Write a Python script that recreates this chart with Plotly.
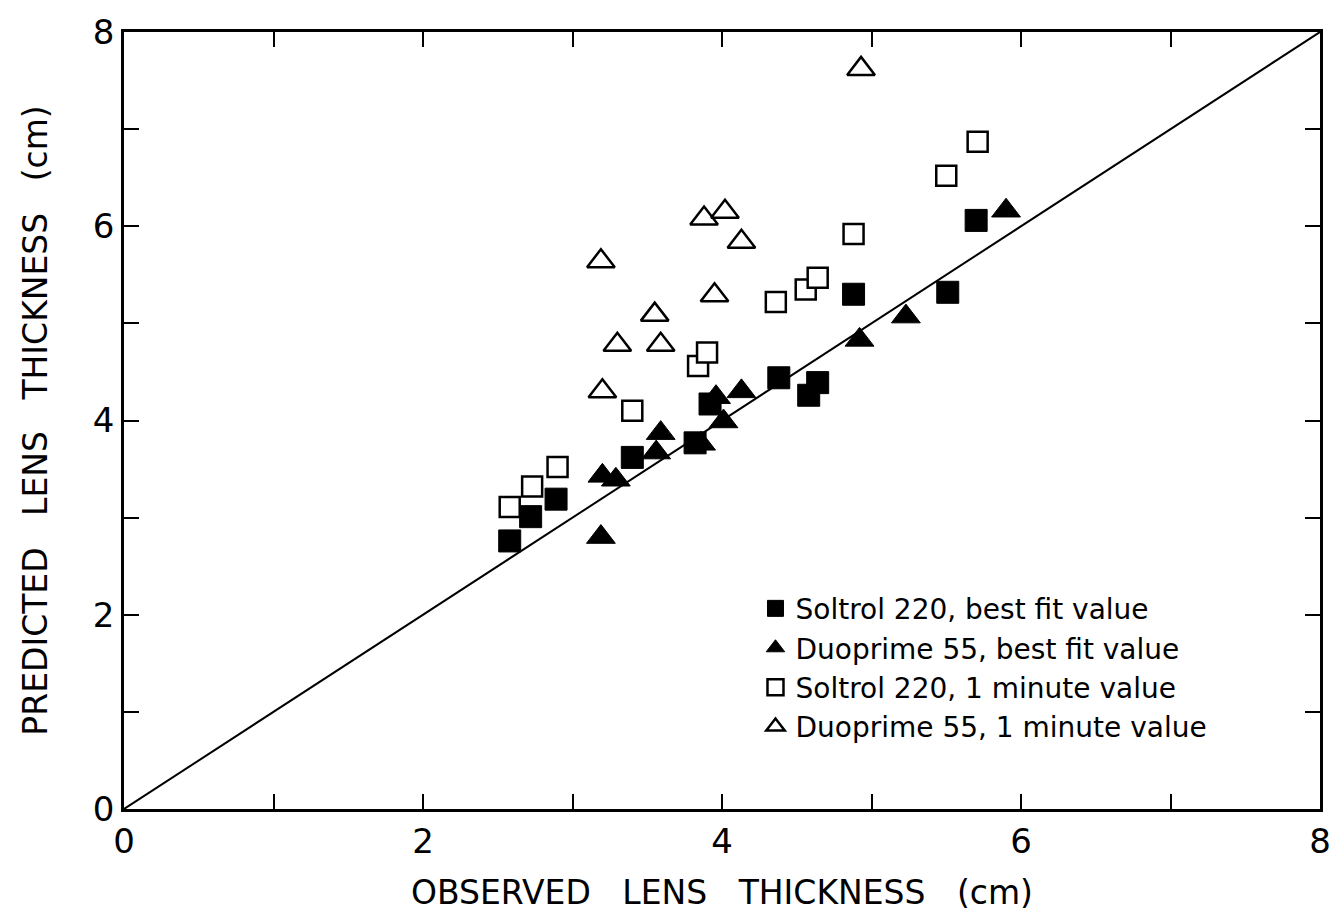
import plotly.graph_objects as go

# Soltrol 220, best fit value (filled squares)
sol_best_x = [2.58, 2.72, 2.89, 3.40, 3.82, 3.92, 4.38, 4.58, 4.64, 4.88, 5.51, 5.70]
sol_best_y = [2.76, 3.01, 3.19, 3.62, 3.77, 4.17, 4.44, 4.26, 4.39, 5.30, 5.32, 6.06]

# Duoprime 55, best fit value (filled triangles)
duo_best_x = [3.19, 3.20, 3.29, 3.56, 3.59, 3.86, 3.96, 4.01, 4.13, 4.92, 5.23, 5.90]
duo_best_y = [2.80, 3.43, 3.39, 3.67, 3.87, 3.76, 4.24, 3.99, 4.30, 4.83, 5.07, 6.16]

# Soltrol 220, 1 minute value (open squares)
sol_1min_x = [2.58, 2.73, 2.90, 3.40, 3.84, 3.90, 4.36, 4.56, 4.64, 4.88, 5.50, 5.71]
sol_1min_y = [3.11, 3.32, 3.52, 4.10, 4.56, 4.70, 5.22, 5.35, 5.47, 5.92, 6.52, 6.87]

# Duoprime 55, 1 minute value (open triangles)
duo_1min_x = [3.19, 3.30, 3.20, 3.55, 3.59, 3.88, 4.02, 3.95, 4.13, 4.93]
duo_1min_y = [5.64, 4.78, 4.30, 5.09, 4.78, 6.08, 6.15, 5.29, 5.84, 7.62]

diag = [0, 8]
tick_vals = [0, 2, 4, 6, 8]

FONT = "DejaVu Sans"
fig = go.Figure()

fig.add_trace(go.Scatter(x=diag, y=diag, mode="lines",
                         line=dict(color="black", width=2), showlegend=False,
                         hoverinfo="skip"))

fig.add_trace(go.Scatter(x=sol_best_x, y=sol_best_y, mode="markers",
                         name="Soltrol 220, best fit value",
                         marker=dict(symbol="square", size=22, color="black",
                                     line=dict(color="black", width=1))))
fig.add_trace(go.Scatter(x=duo_best_x, y=duo_best_y, mode="markers",
                         name="Duoprime 55, best fit value",
                         marker=dict(symbol="triangle-up", size=25, color="black",
                                     line=dict(color="black", width=1))))
fig.add_trace(go.Scatter(x=sol_1min_x, y=sol_1min_y, mode="markers",
                         name="Soltrol 220, 1 minute value",
                         marker=dict(symbol="square", size=20, color="white",
                                     line=dict(color="black", width=2.5))))
fig.add_trace(go.Scatter(x=duo_1min_x, y=duo_1min_y, mode="markers",
                         name="Duoprime 55, 1 minute value",
                         marker=dict(symbol="triangle-up", size=24, color="white",
                                     line=dict(color="black", width=2.5))))

axis_common = dict(
    range=[0, 8], tickvals=tick_vals, ticks="inside", ticklen=15, tickwidth=2,
    tickcolor="black", showline=True, linecolor="black", linewidth=2.5,
    mirror="allticks", showgrid=False, zeroline=False,
    tickfont=dict(family=FONT, size=34, color="black"),
    minor=dict(dtick=1, ticks="inside", ticklen=15, tickwidth=2, tickcolor="black",
               showgrid=False),
)

fig.update_layout(
    width=1343, height=920,
    margin=dict(l=124, r=20, t=26, b=111),
    paper_bgcolor="white", plot_bgcolor="white",
    xaxis=dict(**axis_common,
               title=dict(text="OBSERVED\u00a0\u00a0\u00a0LENS\u00a0\u00a0\u00a0THICKNESS\u00a0\u00a0\u00a0(cm)",
                          font=dict(family=FONT, size=33, color="black"), standoff=22)),
    yaxis=dict(**axis_common,
               title=dict(text="PREDICTED\u00a0\u00a0\u00a0LENS\u00a0\u00a0\u00a0THICKNESS\u00a0\u00a0\u00a0(cm)",
                          font=dict(family=FONT, size=33, color="black"), standoff=36)),
    legend=dict(x=0.528, y=0.29, xanchor="left", yanchor="top",
                bgcolor="rgba(0,0,0,0)", borderwidth=0,
                font=dict(family=FONT, size=28, color="black"),
                itemsizing="trace", tracegroupgap=0),
    showlegend=True,
)

fig.write_html("out.html")
